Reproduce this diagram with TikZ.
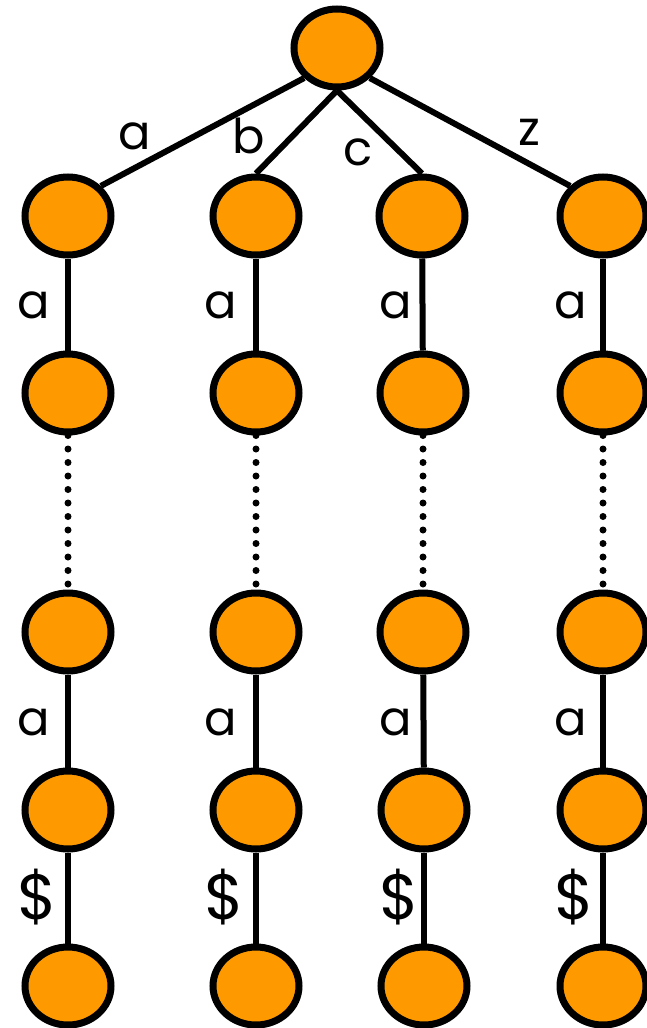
\documentclass[tikz,border=0pt]{standalone}
\usepackage{fontspec}
\setmainfont{Poppins}
\usepackage{tikz}
\usetikzlibrary{shapes.geometric}
\tikzset{vertex/.style = {ellipse, draw, line width=3.5pt, fill=morange,
                          minimum width=43pt, minimum height=39pt, inner sep=0pt},
         edge/.style = {line width=3pt},
         gap/.style = {line width=3.5pt, line cap=round, dash pattern=on 0pt off 6.75pt},
         lbl/.style = {font=\fontsize{24}{28}\selectfont, inner sep=0pt},
         dollar/.style = {font=\fontsize{32}{36}\selectfont, inner sep=0pt}}
\definecolor{morange}{rgb}{1, 0.6, 0}

\begin{document}
\begin{tikzpicture}[x=0.5pt, y=-0.5pt]
    \useasboundingbox (0, 0) rectangle (647, 1028);

    \node [vertex] (r) at (337, 48) {};
    \node [vertex] (a1) at (68, 216) {};  \node [vertex] (a2) at (68, 393) {};
    \node [vertex] (a3) at (68, 632) {};  \node [vertex] (a4) at (68, 810) {};
    \node [vertex] (a5) at (68, 986) {};
    \node [vertex] (b1) at (256, 216) {}; \node [vertex] (b2) at (256, 393) {};
    \node [vertex] (b3) at (256, 632) {}; \node [vertex] (b4) at (256, 810) {};
    \node [vertex] (b5) at (256, 986) {};
    \node [vertex] (c1) at (422, 216) {}; \node [vertex] (c2) at (423, 393) {};
    \node [vertex] (c3) at (423, 632) {}; \node [vertex] (c4) at (424, 810) {};
    \node [vertex] (c5) at (424, 986) {};
    \node [vertex] (z1) at (603, 216) {}; \node [vertex] (z2) at (603, 393) {};
    \node [vertex] (z3) at (603, 632) {}; \node [vertex] (z4) at (603, 810) {};
    \node [vertex] (z5) at (603, 986) {};

    \draw [edge] (r.south west) -- (a1.north east);
    \draw [edge] (r.south) -- (b1.north);
    \draw [edge] (r.south) -- (c1.north);
    \draw [edge] (r.south east) -- (z1.north west);

    \draw [edge] (a1) -- (a2);  \draw [gap] (a2.south) -- (a3.north);
    \draw [edge] (a3) -- (a4);  \draw [edge] (a4) -- (a5);
    \draw [edge] (b1) -- (b2);  \draw [gap] (b2.south) -- (b3.north);
    \draw [edge] (b3) -- (b4);  \draw [edge] (b4) -- (b5);
    \draw [edge] (c1) -- (c2);  \draw [gap] (c2.south) -- (c3.north);
    \draw [edge] (c3) -- (c4);  \draw [edge] (c4) -- (c5);
    \draw [edge] (z1) -- (z2);  \draw [gap] (z2.south) -- (z3.north);
    \draw [edge] (z3) -- (z4);  \draw [edge] (z4) -- (z5);

    \node [lbl] (la) at (135, 136) {a};
    \node [lbl] (lb) at (249, 136) {b};
    \node [lbl] (lc) at (358, 152) {c};
    \node [lbl] (lz) at (529, 132) {z};

    \node [lbl] (la12) at (34, 305) {a};  \node [lbl] (la34) at (34, 722) {a};
    \node [dollar] (la45) at (37, 897) {\$};
    \node [lbl] (lb12) at (221, 305) {a}; \node [lbl] (lb34) at (221, 722) {a};
    \node [dollar] (lb45) at (224, 897) {\$};
    \node [lbl] (lc12) at (396, 305) {a}; \node [lbl] (lc34) at (396, 722) {a};
    \node [dollar] (lc45) at (399, 897) {\$};
    \node [lbl] (lz12) at (571, 305) {a}; \node [lbl] (lz34) at (571, 722) {a};
    \node [dollar] (lz45) at (574, 897) {\$};
  \end{tikzpicture}
\end{document}
